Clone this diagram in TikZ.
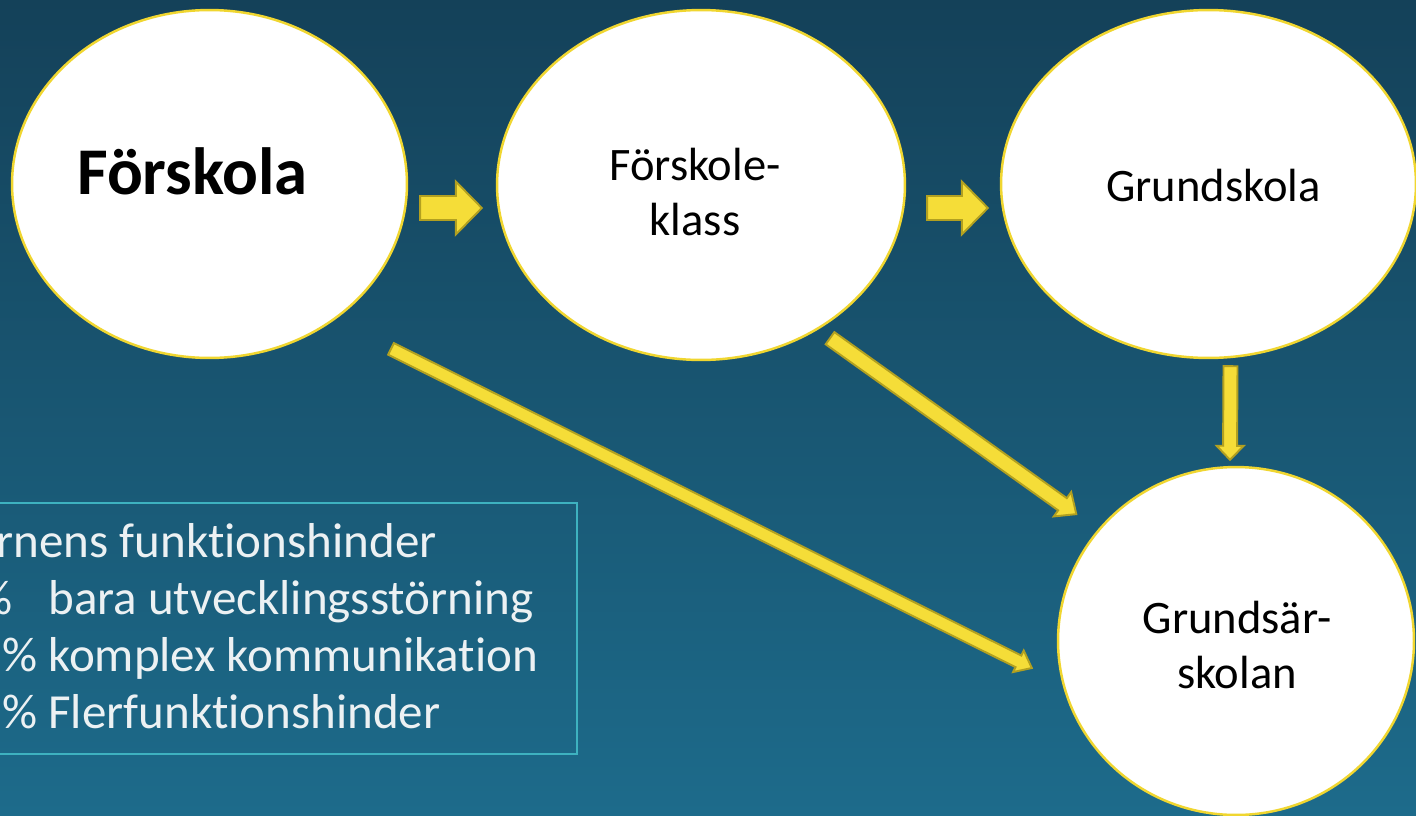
\documentclass[tikz,border=0pt]{standalone}
\usepackage{fontspec}
\setmainfont{Carlito}[Ligatures=NoCommon]
\usetikzlibrary{shapes.geometric,calc}
\definecolor{bgtop}{RGB}{20,65,89}
\definecolor{bgbot}{RGB}{29,107,139}
\definecolor{ringyellow}{RGB}{240,214,48}
\definecolor{arrowfill}{RGB}{245,221,56}
\definecolor{arrowline}{RGB}{178,160,32}
\definecolor{boxline}{RGB}{62,178,192}
\definecolor{boxtext}{RGB}{236,241,243}
\tikzset{
  stage/.style={ellipse, draw=ringyellow, line width=1.4pt, fill=white, inner sep=0pt},
  stagetext/.style={font=\fontsize{26.5}{31.3}\selectfont, align=center, text=black, inner sep=0pt},
  blockarrow/.style={fill=arrowfill, draw=arrowline, line width=1.1pt, line join=miter},
  infobox/.style={draw=boxline, line width=1.1pt},
  listline/.style={font=\fontsize{27.9}{32.6}\selectfont, text=boxtext, inner sep=0pt, anchor=base west}
}
% from, to, shaft half width, head half width, head length
\newcommand{\yellowarrow}[5]{%
  \coordinate (hb) at ($(#2)!#5!(#1)$);
  \draw[blockarrow] ($(#1)!#3!90:(#2)$) -- ($(hb)!#3!-90:(#1)$) -- ($(hb)!#4!-90:(#1)$) -- (#2)
    -- ($(hb)!#4!90:(#1)$) -- ($(hb)!#3!90:(#1)$) -- ($(#1)!#3!-90:(#2)$) -- cycle;
}
\begin{document}
\begin{tikzpicture}[x=0.02cm,y=-0.02cm]
\useasboundingbox (0,0) rectangle (1416,815);
\clip (0,0) rectangle (1416,815);
\shade[top color=bgtop, bottom color=bgbot] (0,0) rectangle (1416,815);

\node[stage, minimum width=7.9cm, minimum height=6.96cm] (fsk) at (209.5,184) {};
\node[stage, minimum width=8.16cm, minimum height=7cm] (fkl) at (701,185) {};
\node[stage, minimum width=8.3cm, minimum height=6.96cm] (gsk) at (1208.5,184) {};
\node[stage, minimum width=7.12cm, minimum height=6.96cm] (gsa) at (1236,641) {};

\node[font=\fontsize{38}{45}\selectfont\bfseries, inner sep=0pt] (fsk-txt) at ([shift={(-17,-13)}]fsk.center) {Förskola};
\node[stagetext] (fkl-txt) at ([shift={(-6,7)}]fkl.center) {Förskole-\\klass};
\node[stagetext] (gsk-txt) at ([shift={(5,2)}]gsk.center) {Grundskola};
\node[stagetext] (gsa-txt) at ([shift={(1,4)}]gsa.center) {Grundsär-\\skolan};

\coordinate (a1s) at ([shift={(12,24)}]fsk.east);
\coordinate (a1e) at ([shift={(-14,23)}]fkl.west);
\coordinate (a2s) at ([shift={(21,23)}]fkl.east);
\coordinate (a2e) at ([shift={(-12,24)}]gsk.west);
\coordinate (a3s) at ([shift={(22,7)}]gsk.south);
\coordinate (a3e) at ([shift={(-6,-6)}]gsa.north);
\coordinate (a4s) at ([shift={(129,-23)}]fkl.south);
\coordinate (a4e) at ([shift={(-33,-3)}]gsa.north west);
\coordinate (a5s) at ([shift={(41,41)}]fsk.south east);
\coordinate (a5e) at ([shift={(-25,27)}]gsa.west);

\yellowarrow{a1s}{a1e}{0.24cm}{0.53cm}{0.52cm}
\yellowarrow{a2s}{a2e}{0.24cm}{0.53cm}{0.52cm}
\yellowarrow{a3s}{a3e}{0.14cm}{0.27cm}{0.28cm}
\yellowarrow{a4s}{a4e}{0.15cm}{0.3cm}{0.34cm}
\yellowarrow{a5s}{a5e}{0.13cm}{0.24cm}{0.3cm}

\draw[infobox] (-5,503) rectangle (577,754);
\node[listline, anchor=base east] (l1) at (437,557) {rnens funktionshinder};
\node[listline] (l2) at (48,614) {\llap{\%\hspace{0.72cm}}bara utvecklingsstörning};
\node[listline] (l3) at (48,671) {\llap{\%\hspace{0.22cm}}komplex kommunikation};
\node[listline] (l4) at (48,728) {\llap{\%\hspace{0.22cm}}Flerfunktionshinder};
\end{tikzpicture}
\end{document}
